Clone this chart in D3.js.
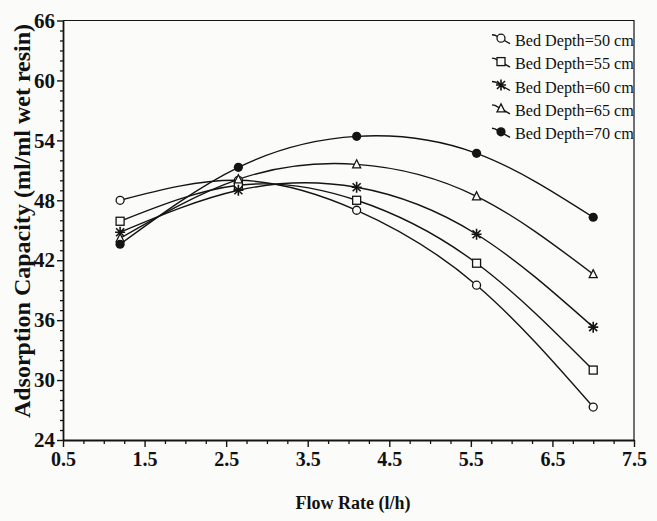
<!DOCTYPE html>
<html>
<head>
<meta charset="utf-8">
<script src="https://cdn.jsdelivr.net/npm/d3@7"></script>
<style>
  html, body { margin: 0; padding: 0; background: #fbfbf9; }
  svg { display: block; }
  text { font-family: "Liberation Serif", "Times New Roman", serif; fill: #111; }
</style>
</head>
<body>
<svg id="chart" width="657" height="521"></svg>
<script>
// Flow rate (l/h) at which each run was made
const flowRates = [1.2, 2.65, 4.1, 5.57, 7.0];

// Adsorption capacity (ml/ml wet resin) for each bed depth
const depth50 = [48.0, 50.0, 47.0, 39.5, 27.3];
const depth55 = [45.9, 49.5, 48.0, 41.7, 31.0];
const depth60 = [44.8, 49.0, 49.3, 44.6, 35.3];
const depth65 = [44.2, 50.1, 51.6, 48.4, 40.6];
const depth70 = [43.6, 51.3, 54.4, 52.7, 46.3];

const seriesNames = ["Bed Depth=50 cm", "Bed Depth=55 cm", "Bed Depth=60 cm", "Bed Depth=65 cm", "Bed Depth=70 cm"];
const seriesValues = [depth50, depth55, depth60, depth65, depth70];
const seriesSymbols = ["circle", "square", "star", "triangle", "dot"];

// Axis ticks
const xTicks = [0.5, 1.5, 2.5, 3.5, 4.5, 5.5, 6.5, 7.5];
const yTicks = [24, 30, 36, 42, 48, 54, 60, 66];

const svg = d3.select("#chart");
const plotLeft = 63, plotRight = 634, plotTop = 20.5, plotBottom = 440;

const x = d3.scaleLinear().domain([0.5, 7.5]).range([plotLeft, plotRight]);
const y = d3.scaleLinear().domain([24, 66]).range([plotBottom, plotTop]);

const ink = "#141414";
const paper = "#fbfbf9";

// frame (top and right edges)
svg.append("path")
  .attr("d", `M${plotLeft},${plotTop}H${plotRight}V${plotBottom}`)
  .attr("fill", "none").attr("stroke", ink).attr("stroke-width", 1.2);

// minor ticks
const xMinor = d3.range(0.5, 7.5001, 0.25).filter(v => Math.abs((v - 0.5) % 1) > 1e-6);
const yMinor = d3.range(24, 66.001, 1).filter(v => v % 6 !== 0);

svg.append("g").attr("transform", `translate(0,${plotBottom})`)
  .call(d3.axisBottom(x).tickValues(xMinor).tickSize(4).tickFormat(""))
  .call(g => g.select(".domain").remove())
  .call(g => g.selectAll("line").attr("stroke", ink).attr("stroke-width", 1.3));

svg.append("g").attr("transform", `translate(${plotLeft},0)`)
  .call(d3.axisLeft(y).tickValues(yMinor).tickSize(3).tickFormat(""))
  .call(g => g.select(".domain").remove())
  .call(g => g.selectAll("line").attr("stroke", ink).attr("stroke-width", 1.3));

// major axes
const xAxis = svg.append("g").attr("transform", `translate(0,${plotBottom})`)
  .call(d3.axisBottom(x).tickValues(xTicks).tickSize(7).tickPadding(5).tickFormat(d3.format(".1f")).tickSizeOuter(0));
xAxis.select(".domain").attr("stroke", ink).attr("stroke-width", 1.8);
xAxis.selectAll("line").attr("stroke", ink).attr("stroke-width", 1.4);
xAxis.selectAll("text").attr("font-size", 20).attr("font-weight", "bold")
  .attr("font-family", "Liberation Serif, serif").attr("fill", ink);

const yAxis = svg.append("g").attr("transform", `translate(${plotLeft},0)`)
  .call(d3.axisLeft(y).tickValues(yTicks).tickSize(6).tickPadding(2).tickSizeOuter(0));
yAxis.select(".domain").attr("stroke", ink).attr("stroke-width", 1.8);
yAxis.selectAll("line").attr("stroke", ink).attr("stroke-width", 1.4);
yAxis.selectAll("text").attr("font-size", 21).attr("font-weight", "bold")
  .attr("font-family", "Liberation Serif, serif").attr("fill", ink);

// axis titles
svg.append("text")
  .attr("x", 353).attr("y", 509)
  .attr("text-anchor", "middle")
  .attr("font-size", 18).attr("font-weight", "bold")
  .text("Flow Rate (l/h)");

svg.append("text")
  .attr("transform", "translate(30,221) rotate(-90)")
  .attr("text-anchor", "middle")
  .attr("font-size", 24).attr("font-weight", "bold")
  .text("Adsorption Capacity (ml/ml wet resin)");

// marker drawing
function drawSymbol(g, kind) {
  const sw = 1.3;
  if (kind === "circle") {
    g.append("circle").attr("r", 4).attr("fill", paper).attr("stroke", ink).attr("stroke-width", sw);
  } else if (kind === "square") {
    g.append("rect").attr("x", -4).attr("y", -4).attr("width", 8).attr("height", 8)
      .attr("fill", paper).attr("stroke", ink).attr("stroke-width", sw);
  } else if (kind === "triangle") {
    g.append("path").attr("d", "M0,-4.5L4,3.5L-4,3.5Z")
      .attr("fill", paper).attr("stroke", ink).attr("stroke-width", sw);
  } else if (kind === "star") {
    g.append("path").attr("d", "M0,-5.5V5.5M-5,0H5M-4,-4L4,4M4,-4L-4,4")
      .attr("fill", "none").attr("stroke", ink).attr("stroke-width", 1.6);
  } else {
    g.append("circle").attr("r", 4.6).attr("fill", ink);
  }
}

// curves
const line = d3.line()
  .x((d, i) => x(flowRates[i]))
  .y(d => y(d))
  .curve(d3.curveNatural);

seriesValues.forEach((vals) => {
  svg.append("path").datum(vals)
    .attr("d", line)
    .attr("fill", "none").attr("stroke", ink).attr("stroke-width", 1.4);
});

seriesValues.forEach((vals, s) => {
  vals.forEach((v, i) => {
    const g = svg.append("g").attr("transform", `translate(${x(flowRates[i])},${y(v)})`);
    drawSymbol(g, seriesSymbols[s]);
  });
});

// legend
const legend = svg.append("g");
seriesNames.forEach((name, i) => {
  const base = 45.7 + i * 23.4;
  const g = legend.append("g").attr("transform", `translate(501,${base - 7.5})`);
  g.append("path").attr("d", "M-9,-3.5L-6,-3L9,5.5")
    .attr("fill", "none").attr("stroke", ink).attr("stroke-width", 1.4);
  drawSymbol(g, seriesSymbols[i]);
  legend.append("text").attr("x", 515).attr("y", base)
    .attr("font-size", 16.2).text(name);
});
</script>
</body>
</html>
